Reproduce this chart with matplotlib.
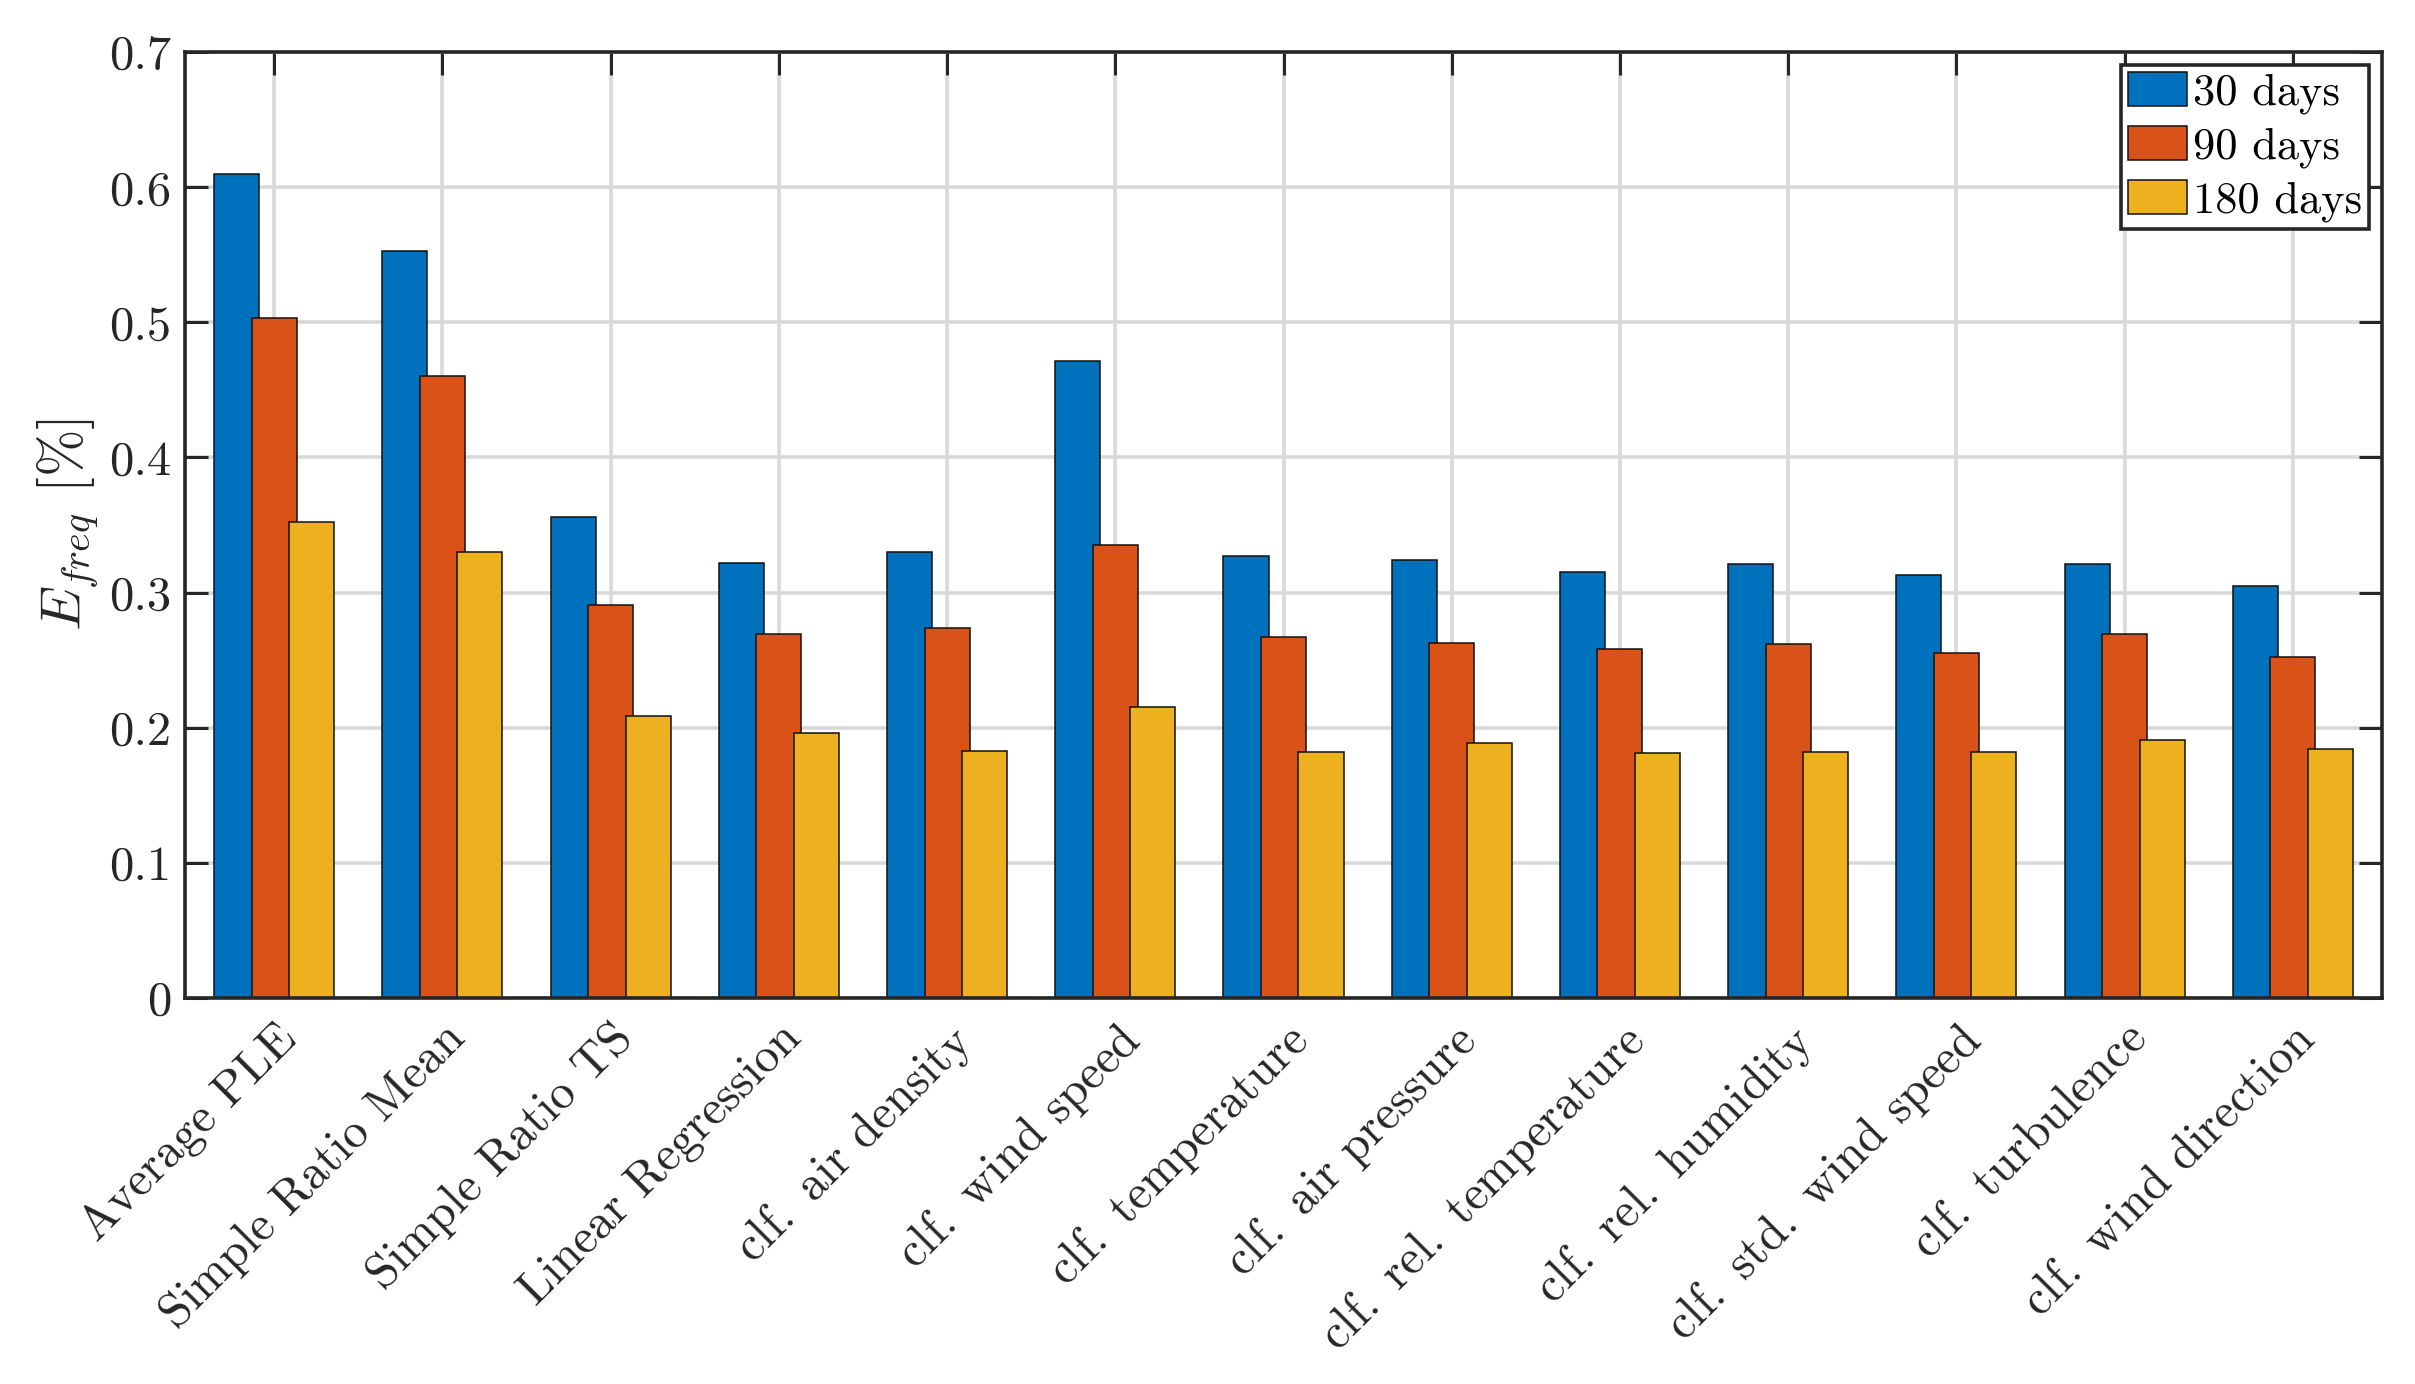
import matplotlib
matplotlib.use("Agg")
import matplotlib.pyplot as plt
import numpy as np

sp = r"$\,$ "
categories = ["Average PLE", "Simple Ratio Mean", "Simple Ratio TS", "Linear Regression",
              "clf." + sp + "air density", "clf." + sp + "wind speed", "clf." + sp + "temperature",
              "clf." + sp + "air pressure", "clf." + sp + "rel." + sp + "temperature",
              "clf." + sp + "rel." + sp + "humidity", "clf." + sp + "std." + sp + "wind speed",
              "clf." + sp + "turbulence", "clf." + sp + "wind direction"]
series_names = ["30 days", "90 days", "180 days"]
vals_30 = [0.610, 0.553, 0.356, 0.322, 0.330, 0.471, 0.327, 0.324, 0.315, 0.321, 0.313, 0.321, 0.305]
vals_90 = [0.503, 0.460, 0.291, 0.269, 0.274, 0.335, 0.267, 0.263, 0.258, 0.262, 0.255, 0.269, 0.252]
vals_180 = [0.352, 0.330, 0.209, 0.196, 0.183, 0.215, 0.182, 0.189, 0.181, 0.182, 0.182, 0.191, 0.184]
yticks = [0, 0.1, 0.2, 0.3, 0.4, 0.5, 0.6, 0.7]
ytick_labels = ["0", "0.1", "0.2", "0.3", "0.4", "0.5", "0.6", "0.7"]
colors = ["#0072BD", "#D95319", "#EDB120"]

plt.rcParams["font.family"] = ["cmr10", "DejaVu Serif"]
plt.rcParams["mathtext.fontset"] = "cm"
plt.rcParams["axes.formatter.use_mathtext"] = True

fs = 35
fig = plt.figure(figsize=(24.15, 13.84), dpi=100)
ax = fig.add_axes([185 / 2415, 1 - 998 / 1384, (2382 - 185) / 2415, (998 - 52) / 1384])

x = np.arange(1, len(categories) + 1)
offset = 0.223
width = 0.268
for i, (vals, name) in enumerate(zip([vals_30, vals_90, vals_180], series_names)):
    ax.bar(x + (i - 1) * offset, vals, width=width, color=colors[i], edgecolor="#111111",
           linewidth=1.1, label=name, zorder=2 + i)

ax.set_xlim(0.47, 13.53)
ax.set_ylim(0, 0.7)
ax.set_yticks(yticks)
ax.set_yticklabels(ytick_labels, fontsize=fs)
ax.set_xticks(x)
ax.set_xticklabels(categories, rotation=45, ha="right", va="top", rotation_mode="anchor", fontsize=fs)
ax.set_axisbelow(True)
ax.grid(True, color="#d9d9d9", linewidth=2.6)
ax.tick_params(direction="in", length=16.5, width=2.2, color="#262626", top=True, right=True,
               labelcolor="#262626")
ax.tick_params(axis="x", pad=13)
ax.tick_params(axis="y", pad=10)
for s in ax.spines.values():
    s.set_linewidth(2.6)
    s.set_color("#262626")
    s.set_zorder(10)

ax.set_ylabel(r"$E_{freq}$ [%]", fontsize=41, color="#262626", labelpad=6)

leg = ax.legend(loc="upper right", fontsize=32, fancybox=False, framealpha=1, edgecolor="#262626",
                handlelength=1.33, handleheight=0.8, handletextpad=0.13, labelspacing=0.27,
                borderpad=0.15, borderaxespad=0.3)
leg.get_frame().set_linewidth(2.6)
leg.set_zorder(20)

fig.savefig("out.png", dpi=100, facecolor="white")
